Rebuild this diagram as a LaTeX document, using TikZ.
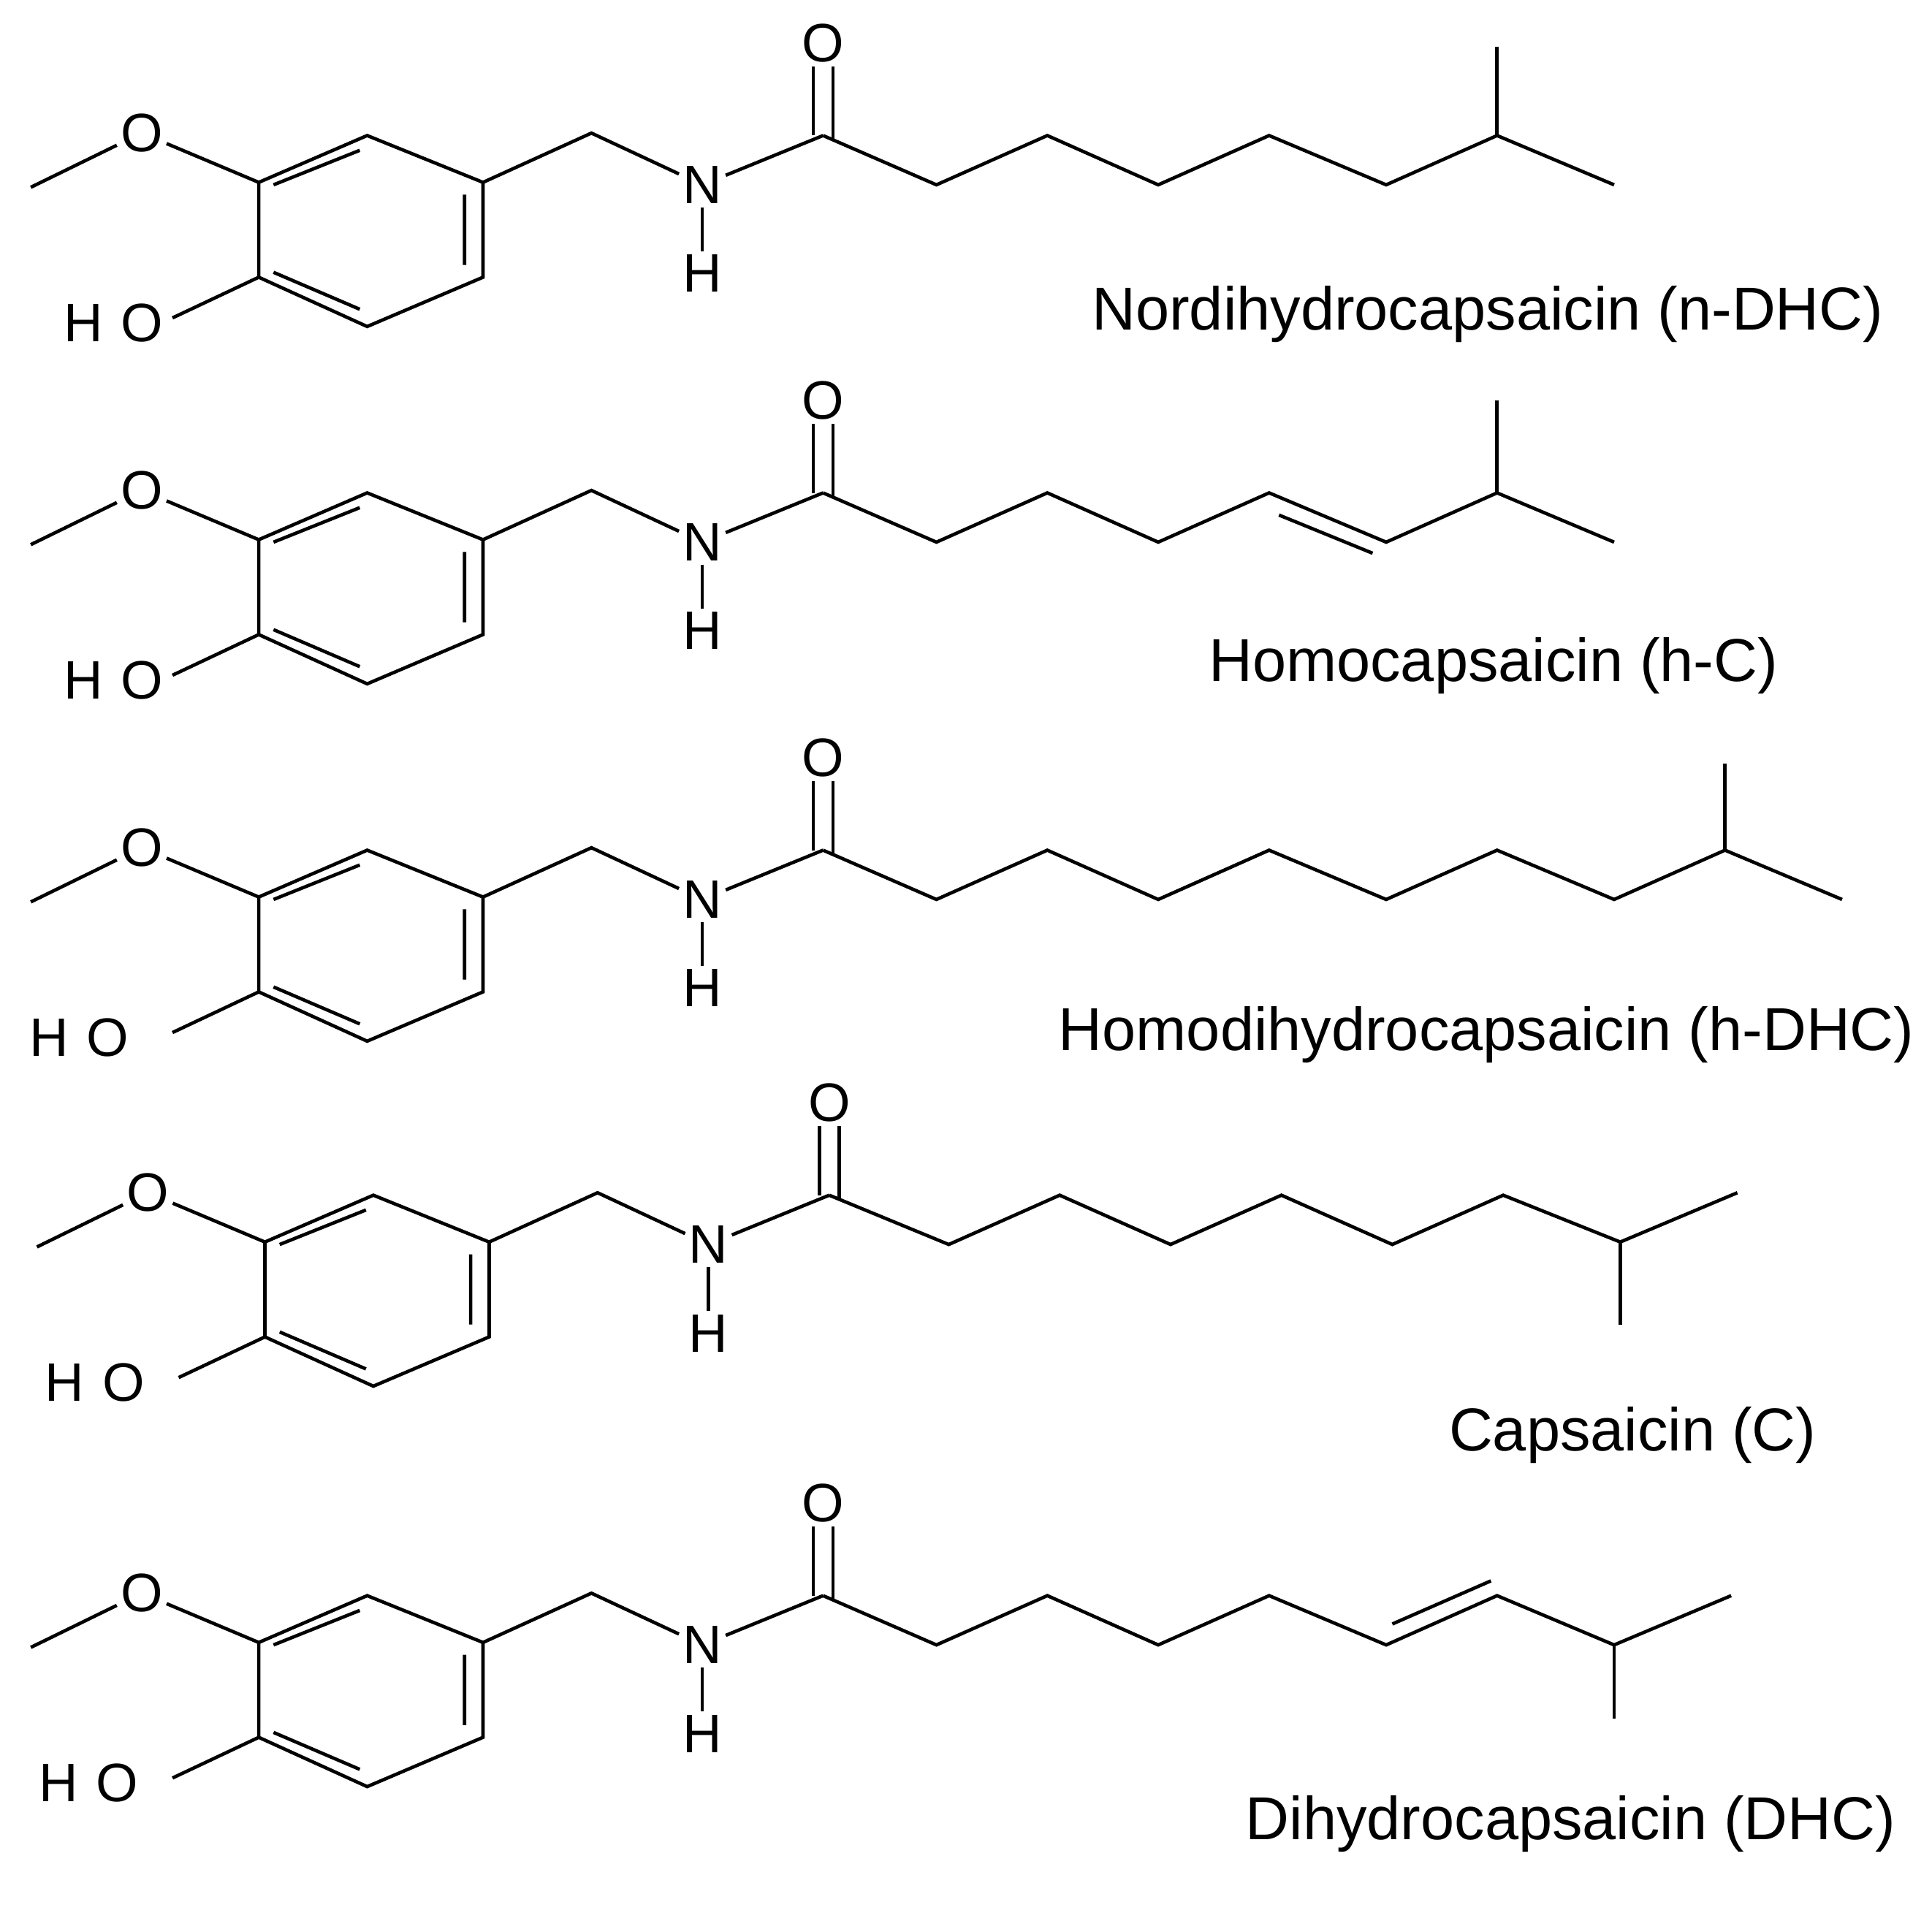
\documentclass[tikz,border=0pt]{standalone}
\usepackage{fontspec}
\setmainfont{Liberation Sans}
\begin{document}
\begin{tikzpicture}[x=0.02cm,y=-0.02cm,line width=0.055cm,
  atom/.style={inner sep=1pt,font=\fontsize{25}{28}\selectfont},
  lbl/.style={inner sep=0pt,font=\fontsize{28}{32}\selectfont}]
\useasboundingbox (0,0) rectangle (1568,1552);
\newcommand\headpart[4]{%
\begin{scope}[shift={(#1,#2)},name prefix=#3-]
 \node[atom] (O1) at (115,108) {O};
 \coordinate (Me) at (25,152);
 \coordinate (r1) at (210,148); \coordinate (r2) at (298,110);
 \coordinate (r3) at (392,148); \coordinate (r4) at (392,225);
 \coordinate (r5) at (298,265); \coordinate (r6) at (210,225);
 \node[atom] (OH) at (#4,262) {H\,\,O};
 \coordinate (hb) at (140,258);
 \coordinate (ch2) at (480,108);
 \node[atom] (N) at (570,150) {N};
 \node[atom] (H) at (570,222) {H};
 \coordinate (C) at (668,110);
 \node[atom] (O2) at (668,35) {O};
 \draw (Me) -- (O1) -- (r1);
 \draw (r1) -- (r2) -- (r3) -- (r4) -- (r5) -- (r6) -- cycle;
 \draw (r6) -- (hb);
 \draw (222,150) -- (292,122) (377,158) -- (377,215) (292,251) -- (222,221);
 \draw (r3) -- (ch2) -- (N) -- (C);
 \draw (N) -- (H);
 \draw (660,110) -- (660,54) (676,114) -- (676,54);
\end{scope}}
% molecule 1
\headpart{0}{0}{m1}{92}
\draw (668,110) -- (760,150) -- (850,110) -- (940,150) -- (1030,110) -- (1125,150) -- (1215,110) -- (1310,150);
\draw (1215,110) -- (1215,38);
\node[lbl,anchor=east] (l1) at (1530,255) {Nordihydrocapsaicin (n-DHC)};
% molecule 2
\headpart{0}{290}{m2}{92}
\draw (668,400) -- (760,440) -- (850,400) -- (940,440) -- (1030,400) -- (1125,440) -- (1215,400) -- (1310,440);
\draw (1038,418) -- (1114,449);
\draw (1215,400) -- (1215,325);
\node[lbl] (l2) at (1212,540) {Homocapsaicin (h-C)};
% molecule 3
\headpart{0}{580}{m3}{64}
\draw (668,690) -- (760,730) -- (850,690) -- (940,730) -- (1030,690) -- (1125,730) -- (1215,690) -- (1310,730) -- (1400,690) -- (1495,730);
\draw (1400,690) -- (1400,620);
\node[lbl,anchor=east] (l3) at (1555,840) {Homodihydrocapsaicin (h-DHC)};
% molecule 4
\headpart{5}{860}{m4}{72}
\draw (673,970) -- (770,1010) -- (860,970) -- (950,1010) -- (1040,970) -- (1130,1010) -- (1220,970) -- (1315,1008) -- (1410,968);
\draw (1315,1008) -- (1315,1075);
\node[lbl] (l4) at (1325,1165) {Capsaicin (C)};
% molecule 5
\headpart{0}{1185}{m5}{72}
\draw (668,1295) -- (760,1335) -- (850,1295) -- (940,1335) -- (1030,1295) -- (1125,1335) -- (1215,1295) -- (1310,1335) -- (1405,1295);
\draw (1130,1318) -- (1210,1283);
\draw (1310,1335) -- (1310,1395);
\node[lbl,anchor=east] (l5) at (1540,1480) {Dihydrocapsaicin (DHC)};
\end{tikzpicture}
\end{document}
